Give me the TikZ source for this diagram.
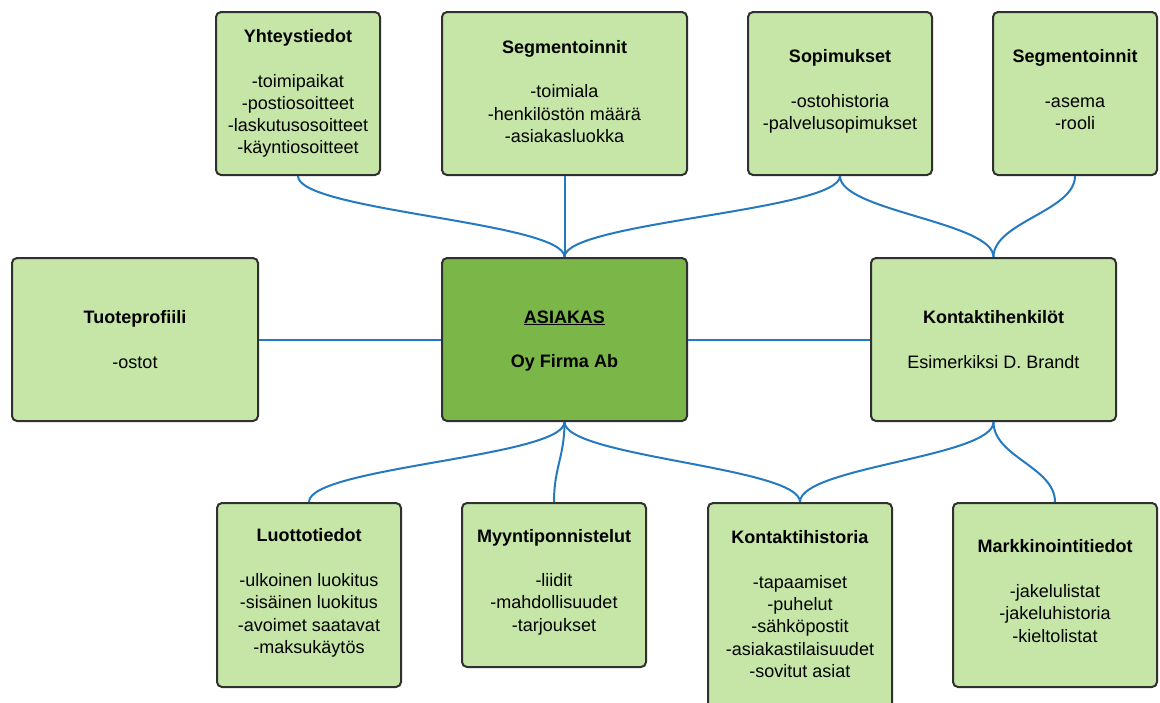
\documentclass[tikz,border=0pt]{standalone}
\usepackage{fontspec}
\setmainfont{Liberation Sans}
\definecolor{boxfill}{HTML}{C5E6A7}
\definecolor{corefill}{HTML}{7AB648}
\definecolor{boxline}{HTML}{303030}
\definecolor{wire}{HTML}{2479C0}
\tikzset{
  infobox/.style={draw=boxline, line width=2pt, rounded corners=5pt, fill=boxfill, inner sep=0pt},
  corebox/.style={infobox, fill=corefill},
  txt/.style={align=center, inner sep=0pt, font=\fontsize{18}{22.3}\selectfont},
  wire/.style={draw=wire, line width=2pt},
}
\newcommand{\ttl}[1]{\textbf{#1}\\[22.3pt]}
\begin{document}
\begin{tikzpicture}[x=1pt,y=-1pt]
\useasboundingbox (0,0) rectangle (1160,702);
\clip (0,0) rectangle (1160,702);

% top row
\node[infobox, minimum width=164pt, minimum height=163pt] (yh) at (298,93.5) {};
\node[infobox, minimum width=245pt, minimum height=163pt] (sg1) at (564.5,93.5) {};
\node[infobox, minimum width=184pt, minimum height=163pt] (sop) at (840,93.5) {};
\node[infobox, minimum width=164pt, minimum height=163pt] (sg2) at (1075,93.5) {};

% middle row
\node[infobox, minimum width=246pt, minimum height=163pt] (tuo) at (135,339.5) {};
\node[corebox, minimum width=245pt, minimum height=163pt] (as) at (564.5,339.5) {};
\node[infobox, minimum width=245pt, minimum height=163pt] (kh) at (993.5,339.5) {};

% bottom row
\node[infobox, minimum width=184pt, minimum height=184pt] (luo) at (309,595) {};
\node[infobox, minimum width=184pt, minimum height=164pt] (myy) at (554,585) {};
\node[infobox, minimum width=184pt, minimum height=210pt] (kon) at (800,608) {};
\node[infobox, minimum width=204pt, minimum height=184pt] (mar) at (1055,595) {};

% box texts
\node[txt] (yh-t) at (yh.center)
  {\ttl{Yhteystiedot}-toimipaikat\\-postiosoitteet\\-laskutusosoitteet\\-käyntiosoitteet};
\node[txt, yshift=2pt] (sg1-t) at (sg1.center)
  {\ttl{Segmentoinnit}-toimiala\\-henkilöstön määrä\\-asiakasluokka};
\node[txt, yshift=2pt] (sop-t) at (sop.center)
  {\ttl{Sopimukset}-ostohistoria\\-palvelusopimukset};
\node[txt, yshift=3.5pt] (sg2-t) at (sg2.center)
  {\ttl{Segmentoinnit}-asema\\-rooli};
\node[txt] (tuo-t) at (tuo.center)
  {\ttl{Tuoteprofiili}-ostot};
\node[txt, yshift=-1.5pt] (as-t) at (as.center)
  {\textbf{\underline{ASIAKAS}}\\[22.3pt]\textbf{Oy Firma Ab}};
\node[txt] (kh-t) at (kh.center)
  {\ttl{Kontaktihenkilöt}Esimerkiksi D. Brandt};
\node[txt, yshift=2pt] (luo-t) at (luo.center)
  {\ttl{Luottotiedot}-ulkoinen luokitus\\-sisäinen luokitus\\-avoimet saatavat\\-maksukäytös};
\node[txt, yshift=3pt] (myy-t) at (myy.center)
  {\ttl{Myyntiponnistelut}-liidit\\-mahdollisuudet\\-tarjoukset};
\node[txt, yshift=4pt] (kon-t) at (kon.center)
  {\ttl{Kontaktihistoria}-tapaamiset\\-puhelut\\-sähköpostit\\-asiakastilaisuudet\\-sovitut asiat};
\node[txt, yshift=4pt] (mar-t) at (mar.center)
  {\ttl{Markkinointitiedot}-jakelulistat\\-jakeluhistoria\\-kieltolistat};

% connectors
\draw[wire] (yh.south) .. controls +(0,35) and +(0,-35) .. (as.north);
\draw[wire] (sg1.south) -- (as.north);
\draw[wire] (sop.south) .. controls +(0,35) and +(0,-35) .. (as.north);
\draw[wire] (sop.south) .. controls +(0,35) and +(0,-35) .. (kh.north);
\draw[wire] (sg2.south) .. controls +(0,35) and +(0,-35) .. (kh.north);
\draw[wire] (tuo.east) -- (as.west);
\draw[wire] (as.east) -- (kh.west);
\draw[wire] (as.south) .. controls +(0,35) and +(0,-35) .. (luo.north);
\draw[wire] (as.south) .. controls +(0,35) and +(0,-35) .. (myy.north);
\draw[wire] (as.south) .. controls +(0,35) and +(0,-35) .. (kon.north);
\draw[wire] (kh.south) .. controls +(0,35) and +(0,-35) .. (kon.north);
\draw[wire] (kh.south) .. controls +(0,35) and +(0,-35) .. (mar.north);
\end{tikzpicture}
\end{document}
